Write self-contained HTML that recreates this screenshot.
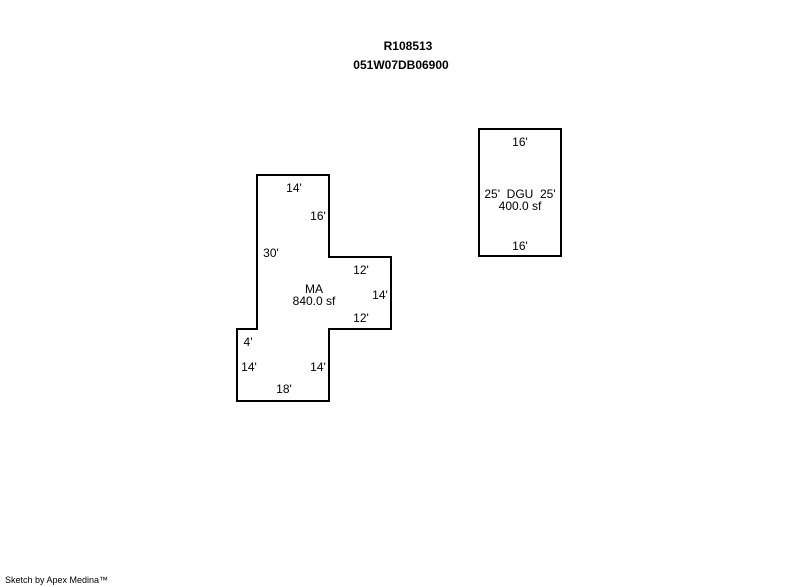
<!DOCTYPE html>
<html><head><style>
body{margin:0;background:#fff;}
svg{display:block;}
text{font-family:"Liberation Sans",Arial,sans-serif;font-size:12px;fill:#000;white-space:pre;}
</style></head><body>
<svg width="800" height="587" viewBox="0 0 800 587" xmlns="http://www.w3.org/2000/svg">
<text x="408" y="50" text-anchor="middle" font-weight="bold">R108513</text>
<text x="401" y="69" text-anchor="middle" font-weight="bold">051W07DB06900</text>
<polygon points="257,175 329,175 329,257 391,257 391,329 329,329 329,401 237,401 237,329 257,329" fill="none" stroke="#000" stroke-width="2"/>
<rect x="479" y="129" width="82" height="127" fill="none" stroke="#000" stroke-width="2"/>
<text x="294" y="192" text-anchor="middle">14'</text>
<text x="318" y="220" text-anchor="middle">16'</text>
<text x="271" y="257" text-anchor="middle">30'</text>
<text x="361" y="274" text-anchor="middle">12'</text>
<text x="314" y="293" text-anchor="middle">MA</text>
<text x="314" y="305" text-anchor="middle">840.0 sf</text>
<text x="380" y="299" text-anchor="middle">14'</text>
<text x="361" y="322" text-anchor="middle">12'</text>
<text x="248" y="346" text-anchor="middle">4'</text>
<text x="249" y="371" text-anchor="middle">14'</text>
<text x="318" y="371" text-anchor="middle">14'</text>
<text x="284" y="393" text-anchor="middle">18'</text>
<text x="520" y="146" text-anchor="middle">16'</text>
<text x="520" y="198" text-anchor="middle" xml:space="preserve">25'  DGU  25'</text>
<text x="520" y="210" text-anchor="middle">400.0 sf</text>
<text x="520" y="250" text-anchor="middle">16'</text>
<text x="5" y="583" style="font-size:9px">Sketch by Apex Medina™</text>
</svg>
</body></html>
